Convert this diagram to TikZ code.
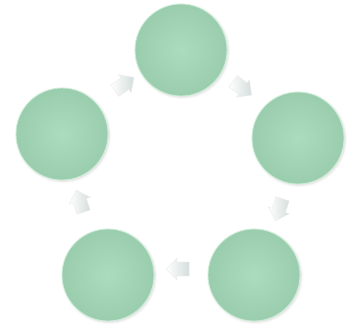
\documentclass[tikz,border=0pt]{standalone}
\usetikzlibrary{calc,shapes.arrows,shadows.blur}
\definecolor{StepGreen}{RGB}{172,220,190}
\definecolor{StepGreenDark}{RGB}{154,204,174}
\definecolor{StepRim}{RGB}{205,238,214}
\definecolor{ArrowGray}{RGB}{212,222,220}
\tikzset{
  stepball/.style={circle,minimum size=2.3cm,inner sep=0pt,
    inner color=StepGreen,outer color=StepGreenDark,
    draw=StepRim,line width=0.6pt,
    blur shadow={shadow xshift=0.3mm,shadow yshift=-0.3mm,shadow opacity=15}},
  cyclearrow/.style={single arrow,single arrow head extend=0.1cm,
    minimum height=0.58cm,inner sep=0.17cm,
    left color=white,right color=ArrowGray,draw=gray!15,line width=0.3pt},
}
\begin{document}
\begin{tikzpicture}
  \useasboundingbox (0,0) rectangle (8.875,8.1);
  % the five steps
  \node[stepball] (top) at (4.525,6.85) {};
  \node[stepball] (right) at (7.45,4.65) {};
  \node[stepball] (botright) at (6.35,1.225) {};
  \node[stepball] (botleft) at (2.7,1.225) {};
  \node[stepball] (left) at (1.55,4.75) {};
  % arrows between them
  \node[cyclearrow,rotate=-37] (a1) at ($(top)!0.5!(right)+(0,0.2)$) {};
  \node[cyclearrow,rotate=-108] (a2) at ($(right)!0.5!(botright)+(0.1,0)$) {};
  \node[cyclearrow,rotate=180] (a3) at ($(botright)!0.5!(botleft)+(0,0.15)$) {};
  \node[cyclearrow,rotate=108] (a4) at ($(botleft)!0.5!(left)+(-0.1,0)$) {};
  \node[cyclearrow,rotate=35] (a5) at ($(left)!0.5!(top)+(0,0.15)$) {};
\end{tikzpicture}
\end{document}
